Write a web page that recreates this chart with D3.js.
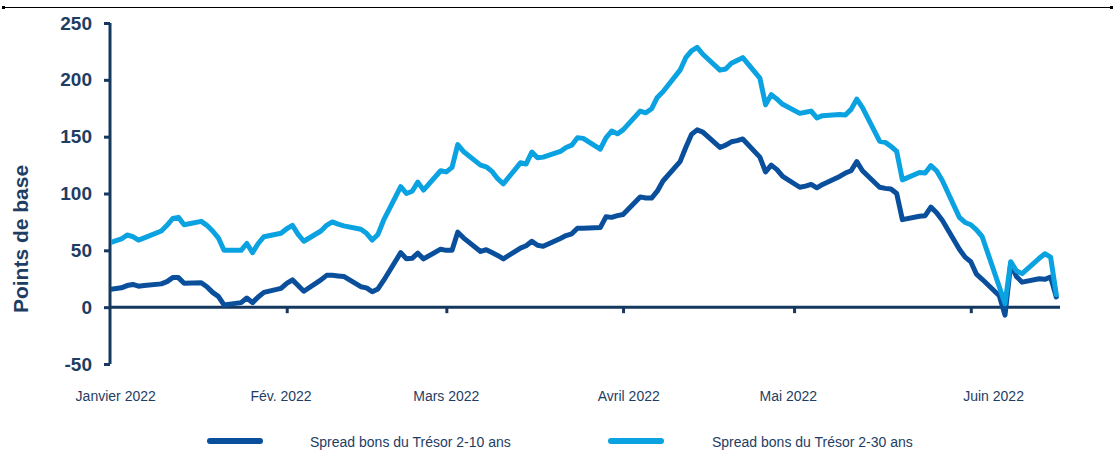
<!DOCTYPE html>
<html>
<head>
<meta charset="utf-8">
<script src="https://cdn.jsdelivr.net/npm/d3@7"></script>
<style>
  html, body { margin: 0; padding: 0; background: #fff; }
  svg { display: block; font-family: "Liberation Sans", Arial, sans-serif; }
</style>
</head>
<body>
<svg id="chart" width="1115" height="453"></svg>
<script>
// ---- Data ----
const startDate = "2021-12-31";
const endDate = "2022-06-16";

const spread2_10 = [
  15,
  17, 19, 20, 18.5, 19,
  20.5, 22.5, 26, 26, 21,
  21.5, 18, 13, 9.5, 2,
  4, 8, 4, 9, 13,
  16.5, 21, 24, 19, 14,
  24, 28, 28, 27.5, 27,
  18, 17, 13.5, 16, 23.5,
  48, 42.5, 43, 47.5, 42.5,
  51, 50, 50, 66, 61,
  49, 50.5, 48, 45.5, 42.5,
  52, 54, 58, 54.5, 53.5,
  60.5, 63, 64.5, 69.5, 69.5,
  70, 79.5, 79, 80.5, 81.5,
  97, 96, 96, 102, 111,
  128, 140.5, 152, 156, 154,
  140.5, 142.5, 145.5, 146.5, 148,
  132, 119, 125, 121, 115,
  105.5, 106.5, 108, 105, 108,
  115, 118, 120, 128, 120,
  105.5, 104.5, 104, 100, 77,
  80, 80.5, 88, 83, 76.5,
  51, 44, 40, 29, 24.5,
  10, -7, 38, 27, 22,
  25, 24.5, 26.5, 9
];

const spread2_30 = [
  55,
  60, 63.5, 62, 59, 61,
  67, 72, 78, 79, 72.5,
  75.5, 72, 67, 61, 50,
  50, 56, 48, 56, 62,
  65, 69, 72, 64, 58,
  67, 72, 75, 73, 71.5,
  68.5, 65, 59, 64, 76.5,
  106, 100, 102, 110, 103,
  120, 119, 123, 143, 137,
  125, 123.5, 119.5, 113, 108.5,
  127, 126, 136.5, 131.5, 132,
  137, 140.5, 142.5, 149, 148.5,
  139, 149, 155, 152.5, 156,
  172.5, 171, 174.5, 184.5, 189.5,
  208.5, 219.5, 225.5, 228.5, 222.5,
  208.5, 209.5, 214.5, 217, 219.5,
  201.5, 178, 187, 183, 178.5,
  170.5, 171.5, 172.5, 166.5, 168.5,
  169.5, 169, 174, 183, 175.5,
  146, 145, 141.5, 137, 112,
  118.5, 118, 124.5, 120, 111.5,
  79, 74.5, 72.5, 68, 62,
  18, 3, 40, 32, 29.5,
  43, 47, 44, 11
];

const yTicks = [-50, 0, 50, 100, 150, 200, 250];
const monthTicks = ["2022-02-01", "2022-03-01", "2022-04-01", "2022-05-01", "2022-06-01"];
const monthLabels = ["Janvier 2022", "Fév. 2022", "Mars 2022", "Avril 2022", "Mai 2022", "Juin 2022"];
const monthLabelDates = ["2022-01-02", "2022-01-31", "2022-03-01", "2022-04-02", "2022-04-30", "2022-06-05"];
const seriesNames = ["Spread bons du Trésor 2-10 ans", "Spread bons du Trésor 2-30 ans"];
const yTitle = "Points de base";

// ---- Setup ----
const parse = d3.utcParse("%Y-%m-%d");
const dates = d3.utcDay.range(parse(startDate), d3.utcDay.offset(parse(endDate), 1))
  .filter(d => d.getUTCDay() !== 0 && d.getUTCDay() !== 6);

const axisColor = "#14385e";
const textColor = "#1e3d63";
const colors = ["#0a4f9c", "#0aa2e0"];

const svg = d3.select("#chart");

const x = d3.scaleUtc()
  .domain([parse("2022-01-01"), parse("2022-06-17")])
  .range([110, 1062]);
const y = d3.scaleLinear().domain([-50, 250]).range([364, 23]);

// top border line
svg.append("line").attr("x1", 2).attr("x2", 1113).attr("y1", 7.5).attr("y2", 7.5)
  .attr("stroke", "#000").attr("stroke-width", 1.2);
svg.append("rect").attr("x", 2).attr("y", 6).attr("width", 3).attr("height", 3).attr("fill", "#000");
svg.append("rect").attr("x", 1110).attr("y", 6).attr("width", 3).attr("height", 3).attr("fill", "#000");

// clip
svg.append("clipPath").attr("id", "plotclip")
  .append("rect").attr("x", 111).attr("y", 0).attr("width", 1000).attr("height", 453);

// Y axis
const yAxis = svg.append("g").attr("transform", "translate(110,0)")
  .call(d3.axisLeft(y).tickValues(yTicks).tickSize(6).tickPadding(12).tickFormat(d => String(d)));
yAxis.select(".domain").attr("stroke", axisColor).attr("stroke-width", 3)
  .attr("d", `M0,${y(250)}V${y(-50)}`);
yAxis.selectAll(".tick line").attr("stroke", axisColor).attr("stroke-width", 3);
yAxis.selectAll(".tick text").attr("fill", textColor)
  .attr("font-size", 19).attr("font-weight", "bold")
  .attr("font-family", "'Liberation Sans', Arial, sans-serif");

// X axis at zero
const xAxis = svg.append("g").attr("transform", `translate(0,${y(0)})`)
  .call(d3.axisBottom(x).tickValues(monthTicks.map(parse)).tickSize(6).tickFormat(""));
xAxis.select(".domain").attr("stroke", axisColor).attr("stroke-width", 3)
  .attr("d", `M110,0H1060`);
xAxis.selectAll(".tick line").attr("stroke", axisColor).attr("stroke-width", 3);

// Month labels
svg.append("g").selectAll("text").data(monthLabels).join("text")
  .attr("x", (d, i) => x(parse(monthLabelDates[i])))
  .attr("y", 401)
  .attr("text-anchor", "middle")
  .attr("font-size", 14)
  .attr("fill", textColor)
  .text(d => d);

// Y title
svg.append("text")
  .attr("transform", "translate(28,239) rotate(-90)")
  .attr("text-anchor", "middle")
  .attr("font-size", 21)
  .attr("font-weight", "bold")
  .attr("fill", textColor)
  .text(yTitle);

// Lines
const line = d3.line().x((d, i) => x(dates[i])).y(d => y(d));
const plot = svg.append("g").attr("clip-path", "url(#plotclip)");
[spread2_10, spread2_30].forEach((s, k) => {
  plot.append("path").datum(s)
    .attr("d", line)
    .attr("fill", "none")
    .attr("stroke", colors[k])
    .attr("stroke-width", 5)
    .attr("stroke-linejoin", "round")
    .attr("stroke-linecap", "round");
});

// Legend
const legendPos = [{sx: 210, tx: 310}, {sx: 611, tx: 712}];
seriesNames.forEach((name, k) => {
  svg.append("line")
    .attr("x1", legendPos[k].sx).attr("x2", legendPos[k].sx + 50)
    .attr("y1", 441).attr("y2", 441)
    .attr("stroke", colors[k]).attr("stroke-width", 6).attr("stroke-linecap", "round");
  svg.append("text")
    .attr("x", legendPos[k].tx).attr("y", 446.5)
    .attr("font-size", 14)
    .attr("fill", textColor)
    .text(name);
});
</script>
</body>
</html>
